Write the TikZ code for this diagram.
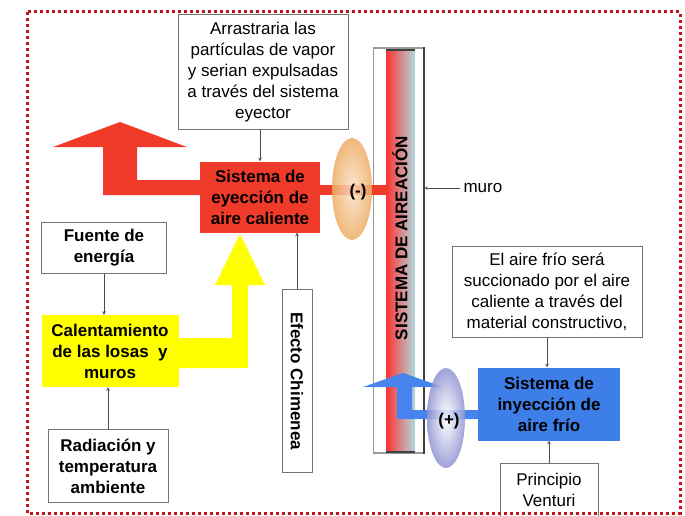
\documentclass[tikz,border=0pt]{standalone}
\usepackage{fontspec}
\setmainfont{Liberation Sans}
\usepackage{tikz}
\usetikzlibrary{positioning, arrows, calc}
\definecolor{rojo}{RGB}{240,58,42}
\definecolor{amarillo}{RGB}{255,255,0}
\definecolor{azul}{RGB}{62,126,232}
\definecolor{azulflecha}{RGB}{72,132,238}
\definecolor{borde}{RGB}{195,20,30}
\definecolor{durazno}{RGB}{238,172,100}
\definecolor{lila}{RGB}{105,110,195}
\definecolor{celeste}{RGB}{175,218,222}
\newcommand{\letra}{\fontsize{17}{21}\selectfont}
\tikzset{
    caja/.style={ % Plain boxes with text
        draw=black!55,
        fill=white,
        align=center,
        inner sep=2pt,
        font=\letra
    },
    every edge/.style={ % Thin connectors between boxes
        draw,
        ->,>=stealth,
        black!70,
        semithick
    },
}

\begin{document}
\begin{tikzpicture}[x=1pt, y=-1pt]
            \useasboundingbox (0,0) rectangle (685,516);
            \tikzset{
                bloque/.style={caja, draw=none, font=\letra\bfseries}
            }
            % muro y sistema de aireacion
            \node[draw=black!40, line width=1.5pt, minimum width=50pt, minimum height=405pt, inner sep=0pt] (col) at (398.5,250.5) {};
            \shade[left color=red!80!white, middle color=red!30!white, right color=celeste] (386,50) rectangle (415,452);
            \draw[black!75, line width=1.5pt] (386,50) -- (415,50) (386,452) -- (415,452);
            \draw[black!75, line width=2pt] (col.north east) -- (col.south east);
            \node[rotate=90, font=\letra\bfseries] (sis) at (400,238) {SISTEMA DE AIREACIÓN};

            % flechas gruesas
            \fill[rojo] (53,147) -- (120,122) -- (187,147) -- (137,147) -- (137,180) -- (205,180)
                        -- (205,195) -- (103,195) -- (103,147) -- cycle;
            \fill[rojo] (315,185) rectangle (388,195);
            \shade[inner color=durazno!35, outer color=durazno, opacity=0.85] (352,189) ellipse [x radius=20pt, y radius=51pt];
            \fill[amarillo] (175,338) -- (232,338) -- (232,285) -- (215,285) -- (240,234) -- (265,285)
                        -- (248,285) -- (248,368) -- (175,368) -- cycle;
            \fill[azulflecha] (363,387) -- (403,373) -- (443,387) -- (412,387) -- (412,410) -- (480,410)
                        -- (480,419) -- (397,419) -- (397,387) -- cycle;
            \shade[inner color=white, outer color=lila!75, opacity=0.85] (446,418) ellipse [x radius=19pt, y radius=50pt];
            \node[font=\letra\bfseries] (menos) at (358,192) {(-)};
            \node[font=\letra\bfseries] (mas)   at (449,421) {(+)};

            % cajas
            \node[caja, minimum width=170pt, minimum height=115pt] (arr) at (263,72)
                {Arrastraria las\\partículas de vapor\\y serian expulsadas\\a través del sistema\\eyector};
            \node[bloque, fill=rojo, minimum width=120pt, minimum height=71pt]     (eye) at (260,197)
                {Sistema de\\eyección de\\aire caliente};
            \node[caja, font=\letra\bfseries, minimum width=125pt, minimum height=51pt] (fue) at (104,248)
                {Fuente de\\energía};
            \node[bloque, fill=amarillo, minimum width=137pt, minimum height=72pt] (cal) at (110,351)
                {Calentamiento\\de las losas~ y\\muros};
            \node[caja, font=\letra\bfseries, minimum width=120pt, minimum height=73pt] (rad) at (108,466)
                {Radiación y\\temperatura\\ambiente};
            \node[caja, font=\letra\bfseries, rotate=-90, minimum width=183pt, minimum height=30pt] (chi) at (297,381)
                {Efecto Chimenea};
            \node[caja, minimum width=190pt, minimum height=91pt] (fri) at (547,292)
                {El aire frío será\\succionado por el aire\\caliente a través del\\material constructivo,};
            \node[bloque, fill=azul, minimum width=142pt, minimum height=73pt]     (iny) at (549,404)
                {Sistema de\\inyección de\\aire frío};
            \node[caja, minimum width=98pt, minimum height=54pt] (ven) at (549,490)
                {Principio\\Venturi};
            \node[font=\letra, anchor=west] (muro) at (460,188) {muro};

            \draw   (arr.south -| eye.north)    edge    (eye.north)
                    (chi.west)                  edge    (chi.west |- eye.south)
                    (fue.south)                 edge    (fue.south |- cal.north)
                    (rad.north)                 edge    (rad.north |- cal.south)
                    (fri.south)                 edge    (fri.south |- iny.north)
                    (ven.north)                 edge    (ven.north |- iny.south)
                    (muro.west)                 edge    (muro.west -| col.east)
            ;

            % marco punteado
            \draw[borde, line width=3pt, dash pattern=on 3pt off 3pt] (27,12) rectangle (680,513);
        \end{tikzpicture}
\end{document}
